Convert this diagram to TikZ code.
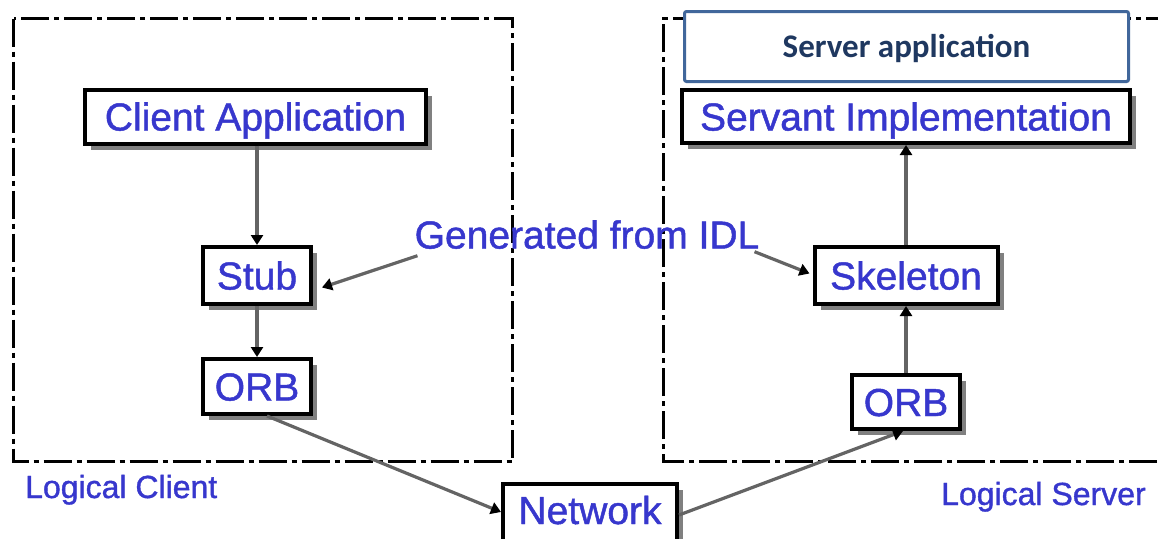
\documentclass[tikz,border=0pt]{standalone}
\usepackage{fontspec}
\setmainfont{Liberation Sans}
\newfontfamily\boxfont[FakeBold=1.2]{Liberation Sans}
\newfontfamily\calfont{Carlito}
\usetikzlibrary{shadows,arrows.meta}
\definecolor{labelblue}{RGB}{55,55,205}
\definecolor{navy}{RGB}{31,56,96}
\definecolor{steelframe}{RGB}{65,103,155}
\definecolor{linkgray}{RGB}{100,100,100}
\tikzset{
  frame/.style={line width=3.5pt, dash pattern=on 28pt off 5pt on 5pt off 5pt},
  box/.style={draw=black, line width=4pt, fill=white, inner sep=0pt,
    font=\boxfont\fontsize{39}{40}\selectfont, text=labelblue,
    text height=28pt, text depth=0pt,
    drop shadow={shadow xshift=6pt, shadow yshift=-6pt, fill=gray, opacity=1}},
  lbl/.style={inner sep=0pt, text=labelblue, text height=28pt, text depth=0pt,
    font=\boxfont\fontsize{39}{40}\selectfont},
  caption/.style={inner sep=0pt, text=labelblue, text height=23pt, text depth=0pt,
    font=\boxfont\fontsize{32}{33}\selectfont, anchor=west},
  conn/.style={draw=linkgray, line width=3.2pt,
    -{Triangle[length=10pt,width=12pt,color=black]}}
}
\begin{document}
\begin{tikzpicture}[x=1pt,y=-1pt]
\useasboundingbox (0,0) rectangle (1158,538);
\clip (0,0) rectangle (1158,538);

% logical client and logical server frames
\draw[frame] (13.5,18.5) rectangle (512.5,461.5);
\draw[frame] (1200,461.5) -- (663.5,461.5) -- (663.5,18.5) -- (1200,18.5);

% server application banner
\node[draw=steelframe, line width=3pt, rounded corners=2pt, fill=white,
      minimum width=444pt, minimum height=70pt, inner sep=0pt,
      font=\calfont\bfseries\fontsize{33}{34}\selectfont, text=navy,
      text height=21pt, text depth=0pt] (app) at (906.5,46.5) {Server application};

% client side
\node[box, minimum width=341pt, minimum height=54pt] (ca) at (255.5,116.5) {Client Application};
\node[box, minimum width=108pt, minimum height=57pt] (stub) at (257,275.5) {Stub};
\node[box, minimum width=108pt, minimum height=55pt] (orbl) at (257,386.5) {ORB};

% server side
\node[box, minimum width=448pt, minimum height=53pt] (serv) at (906,116.5) {Servant Implementation};
\node[box, minimum width=183pt, minimum height=57pt] (skel) at (906,275.5) {Skeleton};
\node[box, minimum width=108pt, minimum height=54pt] (orbr) at (906,402) {ORB};

% network
\node[box, minimum width=174pt, text height=40pt, text depth=40pt] (net) at (590,524) {Network};

% free labels
\node[lbl] (idl) at (587,234.5) {Generated from IDL};
\node[caption] (lc) at (25,486.5) {Logical Client};
\node[caption] (ls) at (941,493.5) {Logical Server};

% connectors
\draw[conn] (stub.north |- ca.south) -- (stub.north);
\draw[conn] (stub.south) -- (orbl.north);
\draw[conn] ([xshift=3pt,yshift=-7pt]idl.south west) -- ([xshift=9pt,yshift=-12pt]stub.east);
\draw[conn] ([xshift=-5pt,yshift=-3pt]idl.south east) -- ([xshift=-3pt,yshift=2pt]skel.west);
\draw[conn] ([xshift=10pt]orbl.south) -- ([yshift=12pt]net.west);
\draw[conn] ([yshift=9pt]net.east) -- ([xshift=-3pt]orbr.south);
\draw[conn] (orbr.north) -- (skel.south);
\draw[conn] (skel.north) -- (serv.south);
\end{tikzpicture}
\end{document}
